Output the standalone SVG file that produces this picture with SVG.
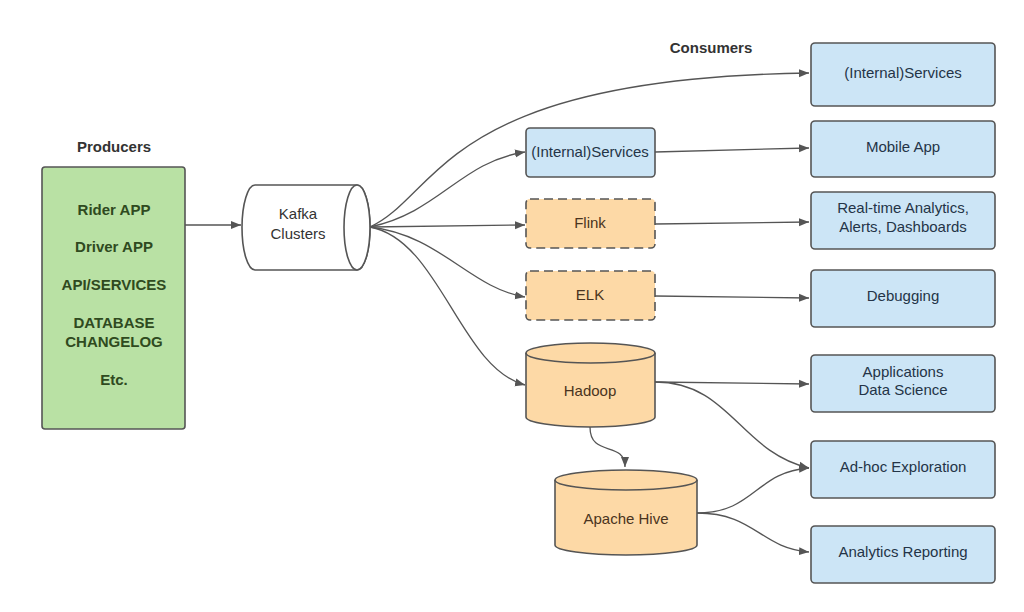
<svg xmlns="http://www.w3.org/2000/svg" width="1024" height="612" viewBox="0 0 1024 612">
<defs>
<marker id="arr" viewBox="0 0 10 10" refX="10" refY="5" markerWidth="10" markerHeight="10" markerUnits="userSpaceOnUse" orient="auto">
<path d="M0,1 L10,5 L0,9 Z" fill="#555"/>
</marker>
<style>
text{font-family:"Liberation Sans",Arial,sans-serif;font-size:15px;text-anchor:middle;}
.title{font-weight:bold;fill:#333;}
.prod{font-weight:bold;fill:#2f4a20;}
.blue{fill:#cce5f6;stroke:#555;stroke-width:1.6;}
.orange{fill:#fdd9a6;stroke:#555;stroke-width:1.6;}
.dash{stroke-dasharray:9,5;}
.bt{fill:#243447;}
.ot{fill:#4a3420;}
.conn path{fill:none;stroke:#555;stroke-width:1.3;marker-end:url(#arr);}
</style>
</defs>
<rect width="1024" height="612" fill="#fff"/>
<text class="title" x="114" y="152">Producers</text>
<text class="title" x="711" y="53">Consumers</text>

<g id="producers">
<rect x="42" y="167" width="143" height="262" rx="3" fill="#b9e1a4" stroke="#555" stroke-width="1.6"/>
<text class="prod" x="114" y="215">Rider APP</text>
<text class="prod" x="114" y="252">Driver APP</text>
<text class="prod" x="114" y="290">API/SERVICES</text>
<text class="prod" x="114" y="328">DATABASE</text>
<text class="prod" x="114" y="347">CHANGELOG</text>
<text class="prod" x="114" y="385">Etc.</text>
</g>

<g id="kafka">
<path d="M255,185 L357,185 A13,42.5 0 0 1 357,270 L255,270 A13,42.5 0 0 1 255,185 Z" fill="#fff" stroke="#555" stroke-width="1.6"/>
<ellipse cx="357" cy="227.5" rx="13" ry="42.5" fill="#fff" stroke="#555" stroke-width="1.6"/>
<text x="298" y="219" fill="#333">Kafka</text>
<text x="298" y="239" fill="#333">Clusters</text>
</g>

<g id="internal-services-mid">
<rect class="blue" x="526" y="128" width="129" height="49" rx="4"/>
<text class="bt" x="590" y="157">(Internal)Services</text>
</g>
<g id="flink">
<rect class="orange dash" x="526" y="199" width="129" height="49" rx="4"/>
<text class="ot" x="590" y="228">Flink</text>
</g>
<g id="elk">
<rect class="orange dash" x="526" y="271" width="129" height="49" rx="4"/>
<text class="ot" x="590" y="300">ELK</text>
</g>
<g id="hadoop">
<path class="orange" d="M526,353 A64.5,10 0 0 1 655,353 L655,417 A64.5,10 0 0 1 526,417 Z"/>
<path d="M526,353 A64.5,10 0 0 0 655,353" fill="none" stroke="#555" stroke-width="1.6"/>
<text class="ot" x="590" y="396">Hadoop</text>
</g>
<g id="hive">
<path class="orange" d="M555,480 A71,10 0 0 1 697,480 L697,545 A71,10 0 0 1 555,545 Z"/>
<path d="M555,480 A71,10 0 0 0 697,480" fill="none" stroke="#555" stroke-width="1.6"/>
<text class="ot" x="626" y="524">Apache Hive</text>
</g>

<g id="c-internal-services">
<rect class="blue" x="811" y="43" width="184" height="63" rx="4"/>
<text class="bt" x="903" y="78">(Internal)Services</text>
</g>
<g id="c-mobile">
<rect class="blue" x="811" y="121" width="184" height="56" rx="4"/>
<text class="bt" x="903" y="152">Mobile App</text>
</g>
<g id="c-realtime">
<rect class="blue" x="811" y="192" width="184" height="57" rx="4"/>
<text class="bt" x="903" y="213">Real-time Analytics,</text>
<text class="bt" x="903" y="232">Alerts, Dashboards</text>
</g>
<g id="c-debugging">
<rect class="blue" x="811" y="270" width="184" height="57" rx="4"/>
<text class="bt" x="903" y="301">Debugging</text>
</g>
<g id="c-applications">
<rect class="blue" x="811" y="355" width="184" height="57" rx="4"/>
<text class="bt" x="903" y="377">Applications</text>
<text class="bt" x="903" y="395">Data Science</text>
</g>
<g id="c-adhoc">
<rect class="blue" x="811" y="441" width="184" height="57" rx="4"/>
<text class="bt" x="903" y="472">Ad-hoc Exploration</text>
</g>
<g id="c-reporting">
<rect class="blue" x="811" y="526" width="184" height="57" rx="4"/>
<text class="bt" x="903" y="557">Analytics Reporting</text>
</g>

<g id="connectors" class="conn">
<path d="M185,225 L241,225"/>
<path d="M370,227 C440,195 440,78 809,73"/>
<path d="M370,227 C440,212 460,162 525,152"/>
<path d="M370,227 L525,225"/>
<path d="M370,227 C440,235 470,288 525,297"/>
<path d="M370,227 C440,240 460,368 525,385"/>
<path d="M655,152 L809,148"/>
<path d="M655,224 L809,222"/>
<path d="M655,296 L809,298"/>
<path d="M655,382 L809,384"/>
<path d="M655,382 C730,382 740,452 809,468"/>
<path d="M590,427 C590,458 625,440 625,467"/>
<path d="M697,513 C755,513 755,472 809,468"/>
<path d="M697,513 C755,513 760,548 809,552"/>
</g>
</svg>
